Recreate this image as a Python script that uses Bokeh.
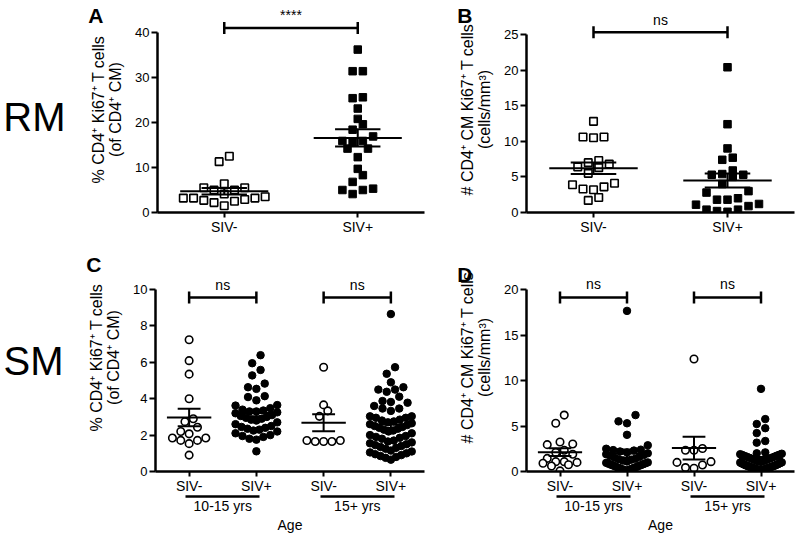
import numpy as np
from bokeh.plotting import figure
from bokeh.models import Range1d, FixedTicker, Label, LinearAxis
from bokeh.layouts import column, row
from bokeh.embed import file_html
from bokeh.resources import INLINE

# ---------------- data ----------------
A_siv_neg = [11.3, 12.5, 6.4, 5.5, 5.0, 4.1, 5.0, 5.5, 3.5, 3.2, 2.9, 2.5, 1.5, 2.2, 2.7, 3.2, 3.2]
A_siv_pos = [36.2, 31.4, 31.4, 25.6, 25.4, 23.1, 20.8, 19.6, 18.4, 15.9, 15.6, 15.9, 16.9,
             14.2, 14.2, 12.3, 9.7, 8.3, 6.8, 5.0, 4.1, 5.0, 5.3]

B_siv_neg = [12.8, 10.6, 10.5, 10.6, 7.0, 6.4, 7.3, 6.3, 6.8, 5.5, 3.9, 3.3, 3.2, 3.6, 4.1, 1.7, 2.1]
B_siv_pos = [20.4, 12.4, 9.0, 7.4, 7.7, 5.4, 5.3, 5.9, 5.0, 5.3, 4.0, 2.8, 3.0, 1.8, 1.8, 2.0,
             1.2, 0.9, 1.1, 0.4, 0.1, 0.2, 0.4]

C_neg_young = [7.24, 6.09, 5.35, 4.0, 2.9, 2.74, 2.43, 2.2, 2.07, 1.84, 1.71, 1.53, 1.71, 1.84, 0.9]
C_pos_young = [6.39, 5.95, 5.58, 5.28, 4.83, 4.63, 4.54, 4.14, 4.09, 3.91, 3.65, 3.62, 3.48, 3.4,
               3.35, 3.3, 3.3, 3.25, 3.2, 3.1, 3.05, 3.0, 2.95, 2.9, 2.85, 2.8, 2.7, 2.6, 2.5,
               2.45, 2.4, 2.35, 2.3, 2.25, 2.2, 2.1, 2.0, 1.95, 1.9, 1.8, 1.75, 1.11]
C_neg_old = [5.73, 3.66, 3.33, 3.03, 1.7, 1.65, 1.65, 1.65, 1.7]
C_pos_old = [8.65, 5.73, 5.37, 4.9, 4.63, 4.5, 4.5, 4.38, 4.11, 3.87, 3.82, 3.78, 3.6, 3.46,
             3.46, 3.33, 3.03, 3.03, 2.95, 2.95, 2.85, 2.8, 2.75, 2.7, 2.65, 2.6, 2.55, 2.5,
             2.45, 2.4, 2.35, 2.3, 2.25, 2.2, 2.1, 2.0, 1.95, 1.9, 1.85, 1.8, 1.7, 1.65, 1.6,
             1.55, 1.5, 1.45, 1.4, 1.35, 1.3, 1.25, 1.15, 1.1, 1.05, 1.0, 0.95, 0.9, 0.85,
             0.8, 0.75, 0.65]

D_neg_young = [6.2, 5.3, 3.24, 2.95, 3.03, 2.34, 2.1, 1.9, 1.44, 1.08, 0.9, 1.08, 1.0, 0.75, 0.6, 0.07]
D_pos_young = [17.65, 6.2, 5.51, 5.3, 4.03, 2.88, 2.5, 2.4, 2.35, 2.3, 2.2, 2.1, 2.0, 1.9, 1.8,
               1.7, 1.6, 1.5, 1.4, 1.35, 1.3, 1.2, 1.1, 1.0, 0.95, 0.9, 0.85, 0.8, 0.75, 0.7,
               0.65, 0.6, 0.55, 0.5, 0.45, 0.4, 0.35, 0.3, 0.25, 0.2, 0.15, 0.1]
D_neg_old = [12.36, 2.34, 2.34, 2.52, 1.08, 0.72, 1.0, 0.36, 0.43]
D_pos_old = [9.08, 5.76, 5.22, 4.76, 4.22, 3.35, 3.17, 2.1, 2.0, 1.95, 1.9, 1.85, 1.8, 1.75,
             1.7, 1.65, 1.6, 1.55, 1.5, 1.45, 1.4, 1.35, 1.3, 1.25, 1.2, 1.15, 1.1, 1.05, 1.0,
             0.98, 0.95, 0.9, 0.88, 0.85, 0.8, 0.78, 0.75, 0.7, 0.68, 0.65, 0.62, 0.6, 0.58,
             0.55, 0.52, 0.5, 0.48, 0.45, 0.42, 0.4, 0.38, 0.35, 0.32, 0.3, 0.28, 0.25, 0.22,
             0.2, 0.18, 0.15, 0.12, 0.1]

top_categories = ["SIV-", "SIV+"]
bottom_categories = ["SIV-", "SIV+", "SIV-", "SIV+"]
age_groups = ["10-15 yrs", "15+ yrs"]
age_title = "Age"
A_yticks = [0, 10, 20, 30, 40]
B_yticks = [0, 5, 10, 15, 20, 25]
C_yticks = [0, 2, 4, 6, 8, 10]
D_yticks = [0, 5, 10, 15, 20]
label_pct = "% CD4\u207a Ki67\u207a T cells\n(of CD4\u207a CM)"
label_abs = "# CD4\u207a CM Ki67\u207a T cells\n(cells/mm\u00b3)"

FONT = "Liberation Sans"

# ---------------- layout constants (pixels) ----------------
W_L, W_R = 432, 364
H_T, H_B = 237, 298
T_FRAME_H, B_FRAME_H = 206, 228


def swarm(vals, center, sx, sy, spacing_px, row_px, maxw_units):
    v = np.asarray(vals, float)
    order = np.argsort(v, kind="stable")
    xs = np.full(len(v), float(center))
    rows, cur, start = [], [], None
    for i in order:
        py = v[i] * sy
        if start is None or py - start > row_px:
            if cur:
                rows.append(cur)
            cur, start = [i], py
        else:
            cur.append(i)
    if cur:
        rows.append(cur)
    maxw_px = maxw_units * sx
    for r in rows:
        k = len(r)
        if k == 1:
            continue
        sp = min(spacing_px, maxw_px / (k - 1))
        slots = sorted(range(k), key=lambda j: (abs(j - (k - 1) / 2), j))
        for idx, j in zip(r, slots):
            xs[idx] = center + (j - (k - 1) / 2) * sp / sx
    return xs


def bare_axis(ax):
    ax.major_tick_out = 0
    ax.major_tick_in = 0
    ax.minor_tick_out = 0
    ax.minor_tick_in = 0
    ax.major_tick_line_color = None
    ax.minor_tick_line_color = None
    ax.major_label_text_font = FONT
    ax.major_label_text_color = "black"
    ax.axis_label_text_font = FONT
    ax.axis_label_text_color = "black"
    ax.axis_label_text_font_style = "normal"
    return ax


def make_panel(width, height, bl, br, bt, bb, xend, yend, yticks, xlabels, ylabel):
    p = figure(width=width, height=height, x_range=Range1d(0.5, xend), y_range=Range1d(0, yend),
               output_backend="svg", toolbar_location=None, tools="",
               min_border_left=bl, min_border_right=br, min_border_top=bt, min_border_bottom=bb)
    p.grid.visible = False
    p.outline_line_color = None
    for ax in (p.xaxis[0], p.yaxis[0]):
        ax.axis_line_width = 2.5
        ax.axis_line_color = "black"
        ax.major_tick_line_width = 2
        ax.major_tick_line_color = "black"
        ax.major_tick_out = 6
        ax.major_tick_in = 0
        ax.minor_tick_out = 0
        ax.minor_tick_in = 0
        ax.major_label_text_font = FONT
        ax.major_label_text_color = "black"
        ax.major_label_standoff = 2
    xt = list(range(1, len(xlabels) + 1))
    p.xaxis[0].axis_label = None
    p.xaxis[0].major_tick_out = 5
    p.xaxis[0].major_label_standoff = 1
    p.xaxis[0].ticker = FixedTicker(ticks=xt)
    p.xaxis[0].major_label_overrides = {t: lab for t, lab in zip(xt, xlabels)}
    p.xaxis[0].major_label_text_font_size = "14px"
    p.yaxis[0].ticker = FixedTicker(ticks=yticks)
    p.yaxis[0].bounds = (yticks[0], yticks[-1])
    p.yaxis[0].major_label_text_font_size = "13px"
    p.yaxis[0].axis_label = ylabel
    p.yaxis[0].axis_label_text_font = FONT
    p.yaxis[0].axis_label_text_font_size = "16px"
    p.yaxis[0].axis_label_text_font_style = "normal"
    p.yaxis[0].axis_label_text_color = "black"
    p.yaxis[0].axis_label_standoff = 8
    p.yaxis[0].axis_label_text_line_height = 1.0
    return p


def side_text(p, y, text, fs, style, standoff):
    ax = bare_axis(LinearAxis(ticker=FixedTicker(ticks=[y]), major_label_overrides={y: text}))
    ax.axis_line_color = None
    ax.major_label_standoff = standoff
    ax.major_label_text_font_size = fs
    ax.major_label_text_font_style = style
    p.add_layout(ax, "left")


def add_group(p, vals, xc, marker, filled, size, sx, sy, spacing, row_px):
    xs = swarm(vals, xc, sx, sy, spacing, row_px, 0.62)
    p.scatter(x=xs, y=vals, marker=marker, size=size,
              fill_color="black" if filled else "white", line_color="black",
              line_width=1.0 if filled else 1.6)


def add_mean(p, vals, xc):
    v = np.asarray(vals, float)
    m = v.mean()
    s = v.std(ddof=1) / np.sqrt(len(v))
    p.segment(x0=[xc - 0.33, xc, xc - 0.17, xc - 0.17],
              y0=[m, m - s, m - s, m + s],
              x1=[xc + 0.33, xc, xc + 0.17, xc + 0.17],
              y1=[m, m + s, m - s, m + s], line_color="black", line_width=2)


def add_bracket(p, x0, x1, yb, ty, text, sy, fs="14px"):
    d = 6.0 / sy
    p.segment(x0=[x0, x0, x1], y0=[yb, yb - d, yb - d], x1=[x1, x0, x1], y1=[yb, yb + d, yb + d],
              line_color="black", line_width=2.5)
    p.add_layout(Label(x=(x0 + x1) / 2, y=ty, text=text, text_align="center", text_baseline="middle",
                       text_font=FONT, text_font_size=fs, text_color="black"))


def add_age_axes(p):
    centers = []
    for gi in range(len(age_groups)):
        b0, b1 = 2 * gi + 0.95, 2 * gi + 2.05
        centers.append(2 * gi + 1.5)
        bar = bare_axis(LinearAxis(ticker=FixedTicker(ticks=[]), bounds=(b0, b1)))
        bar.axis_line_width = 2.5
        bar.axis_line_color = "black"
        bar.major_label_standoff = 0
        p.add_layout(bar, "below")
    grp = bare_axis(LinearAxis(ticker=FixedTicker(ticks=centers),
                               major_label_overrides={c: g for c, g in zip(centers, age_groups)}))
    grp.axis_line_color = None
    grp.major_label_standoff = 1
    grp.major_label_text_font_size = "14px"
    grp.axis_label = age_title
    grp.axis_label_text_font_size = "14px"
    grp.axis_label_standoff = 0
    p.add_layout(grp, "below")


# ---------------- panel A ----------------
A_SY = 4.5
A_yend = T_FRAME_H / A_SY
pA = make_panel(W_L, H_T, 150, 8, 6, 25, 2.5, A_yend, A_yticks, top_categories, label_pct)
A_FB, A_SX = 212, 274 / 2
add_group(pA, A_siv_neg, 1, "square", False, 7.5, A_SX, A_SY, 10.5, 9.5)
add_group(pA, A_siv_pos, 2, "square", True, 7.5, A_SX, A_SY, 10.5, 9.5)
add_mean(pA, A_siv_neg, 1)
add_mean(pA, A_siv_pos, 2)
add_bracket(pA, 1, 2, 41.0, 43.8, "****", A_SY, "14px")
side_text(pA, (A_FB - 15) / A_SY, "A", "21px", "bold", -16)
side_text(pA, (A_FB - 116) / A_SY, "RM", "40px", "normal", 20)

# ---------------- panel B ----------------
B_SY = 7.12
B_yend = T_FRAME_H / B_SY
pB = make_panel(W_R, H_T, 94, 2, 6, 25, 2.5, B_yend, B_yticks, top_categories, label_abs)
B_FB, B_SX = 212, 268 / 2
add_group(pB, B_siv_neg, 1, "square", False, 7.5, B_SX, B_SY, 10.5, 9.5)
add_group(pB, B_siv_pos, 2, "square", True, 7.5, B_SX, B_SY, 10.5, 9.5)
add_mean(pB, B_siv_neg, 1)
add_mean(pB, B_siv_pos, 2)
add_bracket(pB, 1, 2, 25.3, 27.0, "ns", B_SY)
side_text(pB, (B_FB - 15) / B_SY, "B", "21px", "bold", -16)

# ---------------- panel C ----------------
C_SY = 18.2
C_yend = B_FRAME_H / C_SY
pC = make_panel(W_L, H_B, 150, 8, 6, 64, 4.5, C_yend, C_yticks, bottom_categories, label_pct)
C_FB, C_SX = 471, 274 / 4
add_group(pC, C_neg_young, 1, "circle", False, 7.5, C_SX, C_SY, 8.5, 8.5)
add_group(pC, C_pos_young, 2, "circle", True, 7.5, C_SX, C_SY, 8.5, 8.5)
add_group(pC, C_neg_old, 3, "circle", False, 7.5, C_SX, C_SY, 8.5, 8.5)
add_group(pC, C_pos_old, 4, "circle", True, 7.5, C_SX, C_SY, 8.5, 8.5)
for vals, xc in [(C_neg_young, 1), (C_pos_young, 2), (C_neg_old, 3), (C_pos_old, 4)]:
    add_mean(pC, vals, xc)
add_bracket(pC, 1, 2, 9.56, 10.27, "ns", C_SY)
add_bracket(pC, 3, 4, 9.56, 10.27, "ns", C_SY)
side_text(pC, (C_FB - 264) / C_SY, "C", "21px", "bold", -16)
side_text(pC, (C_FB - 360) / C_SY, "SM", "40px", "normal", 20)
add_age_axes(pC)

# ---------------- panel D ----------------
D_SY = 9.1
D_yend = B_FRAME_H / D_SY
pD = make_panel(W_R, H_B, 94, 2, 6, 64, 4.5, D_yend, D_yticks, bottom_categories, label_abs)
D_FB, D_SX = 471, 268 / 4
add_group(pD, D_neg_young, 1, "circle", False, 7.5, D_SX, D_SY, 8.5, 8.5)
add_group(pD, D_pos_young, 2, "circle", True, 7.5, D_SX, D_SY, 8.5, 8.5)
add_group(pD, D_neg_old, 3, "circle", False, 7.5, D_SX, D_SY, 8.5, 8.5)
add_group(pD, D_pos_old, 4, "circle", True, 7.5, D_SX, D_SY, 8.5, 8.5)
for vals, xc in [(D_neg_young, 1), (D_pos_young, 2), (D_neg_old, 3), (D_pos_old, 4)]:
    add_mean(pD, vals, xc)
add_bracket(pD, 1, 2, 19.12, 20.55, "ns", D_SY)
add_bracket(pD, 3, 4, 19.12, 20.55, "ns", D_SY)
side_text(pD, (D_FB - 274) / D_SY, "D", "21px", "bold", -16)
add_age_axes(pD)

layout = column(row(pA, pB), row(pC, pD))
open("out.html", "w").write(file_html(layout, INLINE))
